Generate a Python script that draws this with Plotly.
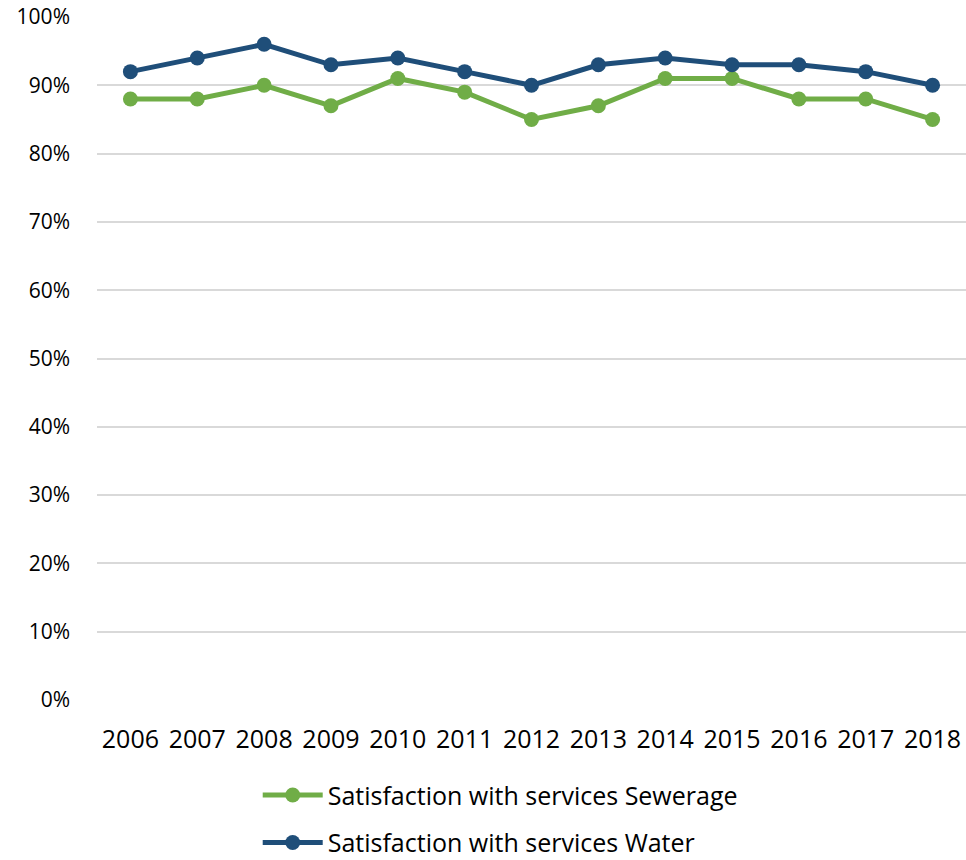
import plotly.graph_objects as go

years = ["2006", "2007", "2008", "2009", "2010", "2011", "2012",
         "2013", "2014", "2015", "2016", "2017", "2018"]
sewerage = [0.88, 0.88, 0.90, 0.87, 0.91, 0.89, 0.85, 0.87, 0.91, 0.91, 0.88, 0.88, 0.85]
water = [0.92, 0.94, 0.96, 0.93, 0.94, 0.92, 0.90, 0.93, 0.94, 0.93, 0.93, 0.92, 0.90]
y_ticks = [i / 10 for i in range(11)]
y_tick_text = [f"{i * 10}%" for i in range(11)]

FONT = "Open Sans"
GREEN = "#70AD47"
BLUE = "#1F4E79"

fig = go.Figure()
fig.add_trace(go.Scatter(
    x=years, y=sewerage, mode="lines+markers",
    name="Satisfaction with services Sewerage",
    line=dict(color=GREEN, width=5),
    marker=dict(color=GREEN, size=15),
    legendgroup="a",
))
fig.add_trace(go.Scatter(
    x=years, y=water, mode="lines+markers",
    name="Satisfaction with services Water",
    line=dict(color=BLUE, width=5),
    marker=dict(color=BLUE, size=15),
    legendgroup="b",
))

fig.update_layout(
    width=966, height=860,
    margin=dict(l=97, r=0, t=17, b=160, autoexpand=False),
    paper_bgcolor="white", plot_bgcolor="white",
    font=dict(family=FONT, size=21, color="#000000"),
    showlegend=True,
    legend=dict(
        orientation="v", x=0.464, xanchor="center",
        yref="container", y=0.102, yanchor="top",
        font=dict(size=25), traceorder="grouped", tracegroupgap=12,
        itemwidth=60,
    ),
    xaxis=dict(
        type="category", range=[-0.5, 12.5],
        showgrid=False, showline=False, zeroline=False,
        ticks="", ticklabelstandoff=22, tickfont=dict(size=25),
    ),
    yaxis=dict(
        range=[0, 1], tickvals=y_ticks, ticktext=y_tick_text,
        showgrid=True, gridcolor="#D9D9D9", gridwidth=1.5,
        zeroline=False, showline=False, ticks="", ticklabelstandoff=26,
    ),
)

fig.write_html("out.html")
